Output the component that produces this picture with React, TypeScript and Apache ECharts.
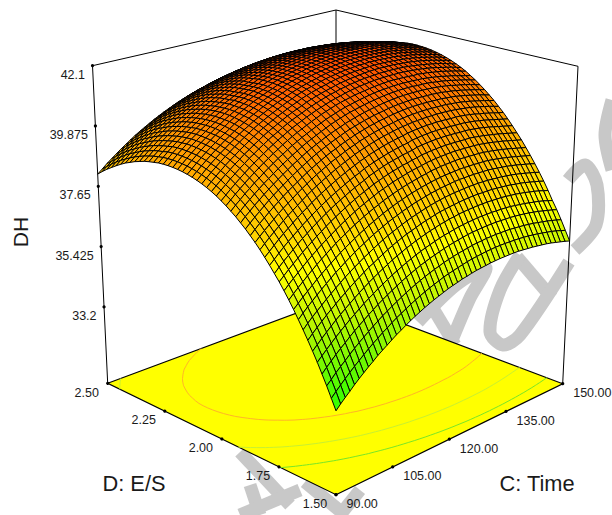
import React, { useEffect, useRef } from "react";
import * as echarts from "echarts";

const zTicks = [42.1, 39.875, 37.65, 35.425, 33.2];
const zTickLabels = ["42.1", "39.875", "37.65", "35.425", "33.2"];
const cTicks = [90, 105, 120, 135, 150];
const cTickLabels = ["90.00", "105.00", "120.00", "135.00", "150.00"];
const dTicks = [1.5, 1.75, 2.0, 2.25, 2.5];
const dTickLabels = ["1.50", "1.75", "2.00", "2.25", "2.50"];
const zFloor = 30.38;
const zTop = 42.1;
const contourLevels = [40.2, 38.5, 36.8];
const contourColors = ["#ffb428", "#c8f032", "#78e628"];
const colorStops: [number, number[]][] = [
  [33.2, [40, 255, 0]],
  [35.6, [190, 245, 0]],
  [37, [255, 255, 0]],
  [38, [255, 210, 0]],
  [40, [255, 150, 0]],
  [42.1, [255, 70, 0]],
];

// DH x 100 at each mesh node: one row per D step (1.50 -> 2.50), one column per C step (90 -> 150).
// Estimates: values were read along the visible edges and silhouette, and the other nodes,
// including those hidden behind the dome, come from a smooth quadratic fitted to those readings by hand.
const dhRows: number[][] = [
  [3320,3336,3351,3365,3380,3394,3407,3420,3432,3445, 3456,3467,3478,3489,3498,3508,3517,3526,3534,3542, 3549,3556,3562,3568,3574,3579, 3583,3588,3591,3595,3598,3600,3602,3604,3605,3606,3606,3606,3606,3605,3603,3601,3599,3596,3593,3590,3586,3581,3576,3571,3565],
  [3355,3371,3386,3401,3415,3429,3442,3455,3468,3480, 3491,3503,3513,3524,3534,3543,3552,3561,3569,3577, 3584,3591,3597,3603,3609,3614, 3618,3622,3626,3630,3633,3635,3637,3639,3640,3641,3641,3641,3640,3639,3638,3636,3634,3631,3628,3624,3620,3616,3611,3605,3599],
  [3390,3405,3421,3435,3449,3463,3477,3490,3502,3514, 3526,3537,3548,3558,3568,3577,3586,3595,3603,3611, 3618,3625,3631,3637,3642,3648, 3652,3656,3660,3663,3666,3669,3671,3672,3674,3674,3675,3674,3674,3673,3671,3669,3667,3664,3661,3657,3653,3649,3644,3639,3633],
  [3423,3439,3454,3469,3483,3496,3510,3523,3535,3547, 3559,3570,3581,3591,3601,3610,3619,3628,3636,3644, 3651,3658,3664,3670,3675,3680, 3685,3689,3693,3696,3699,3702,3704,3705,3706,3707,3707,3707,3706,3705,3704,3702,3700,3697,3694,3690,3686,3681,3676,3671,3665],
  [3456,3471,3486,3501,3515,3529,3542,3555,3567,3579, 3591,3602,3612,3623,3632,3642,3651,3659,3667,3675, 3682,3689,3695,3701,3706,3711, 3716,3720,3723,3727,3730,3732,3734,3735,3737,3737,3737,3737,3736,3735,3734,3732,3729,3726,3723,3719,3715,3711,3706,3700,3694],
  [3487,3502,3517,3532,3546,3560,3573,3586,3598,3610, 3622,3633,3644,3654,3664,3673,3682,3691,3699,3706, 3714,3720,3727,3732,3738,3743, 3747,3752,3755,3759,3761,3764,3766,3767,3768,3769,3769,3769,3768,3767,3766,3764,3761,3759,3755,3752,3747,3743,3738,3732,3726],
  [3517,3533,3548,3562,3577,3590,3603,3616,3628,3641, 3652,3663,3674,3685,3693,3703,3712,3721,3729,3737, 3744,3751,3756,3762,3768,3773, 3777,3782,3786,3788,3791,3793,3795,3797,3798,3799,3799,3798,3798,3797,3795,3793,3791,3788,3784,3781,3777,3772,3767,3762,3756],
  [3546,3562,3577,3591,3605,3619,3632,3645,3657,3670, 3681,3692,3702,3713,3722,3732,3741,3750,3758,3765, 3772,3779,3785,3791,3796,3801, 3806,3810,3814,3817,3820,3822,3824,3825,3826,3827,3827,3827,3826,3825,3823,3821,3819,3816,3813,3809,3805,3800,3795,3790,3784],
  [3574,3590,3605,3619,3633,3647,3660,3673,3686,3697, 3709,3720,3731,3741,3750,3760,3769,3777,3785,3793, 3800,3806,3813,3818,3824,3829, 3833,3837,3841,3844,3847,3849,3851,3853,3854,3854,3854,3854,3853,3852,3851,3849,3846,3843,3840,3836,3832,3827,3822,3817,3811],
  [3602,3617,3632,3646,3660,3674,3687,3700,3712,3724, 3736,3747,3757,3767,3777,3786,3795,3803,3811,3819, 3826,3832,3839,3844,3850,3855, 3859,3863,3867,3870,3873,3875,3877,3878,3879,3880,3880,3879,3879,3877,3877,3875,3872,3869,3865,3861,3857,3852,3847,3842,3837],
  [3628,3643,3658,3672,3686,3700,3713,3726,3738,3750, 3762,3773,3783,3793,3803,3812,3821,3829,3837,3844, 3852,3858,3864,3870,3875,3880, 3884,3888,3892,3895,3899,3901,3903,3904,3905,3906,3906,3905,3904,3903,3902,3900,3897,3894,3890,3886,3882,3877,3872,3867,3862],
  [3653,3668,3683,3697,3711,3725,3738,3751,3763,3775, 3786,3797,3808,3818,3828,3837,3846,3854,3862,3869, 3877,3883,3889,3895,3900,3904, 3909,3913,3916,3919,3923,3925,3927,3928,3929,3930,3930,3929,3928,3927,3926,3924,3921,3918,3914,3910,3906,3901,3896,3891,3886],
  [3677,3692,3707,3721,3735,3749,3762,3774,3787,3798, 3810,3821,3831,3841,3851,3860,3869,3877,3885,3892, 3900,3906,3912,3918,3923,3927, 3932,3935,3939,3942,3946,3948,3950,3951,3952,3952,3952,3951,3950,3949,3949,3946,3943,3940,3936,3932,3928,3923,3918,3913,3908],
  [3699,3715,3730,3744,3758,3772,3785,3797,3810,3821, 3833,3843,3854,3864,3873,3882,3891,3899,3907,3914, 3923,3929,3935,3941,3946,3950, 3954,3958,3961,3964,3969,3971,3973,3974,3975,3975,3975,3974,3973,3971,3971,3969,3966,3963,3959,3955,3950,3945,3940,3935,3930],
  [3721,3736,3751,3766,3780,3793,3806,3819,3831,3843, 3854,3865,3875,3885,3894,3903,3912,3920,3928,3935, 3944,3950,3956,3961,3966,3971, 3975,3979,3982,3985,3990,3992,3994,3995,3996,3996,3996,3995,3994,3992,3992,3990,3987,3984,3980,3976,3971,3966,3961,3956,3951],
  [3742,3757,3772,3787,3801,3814,3827,3840,3852,3863, 3875,3886,3896,3906,3915,3924,3933,3941,3949,3956, 3964,3970,3977,3982,3987,3992, 3996,4000,4003,4006,4010,4012,4014,4015,4016,4016,4016,4015,4014,4012,4012,4010,4007,4004,4000,3995,3991,3986,3981,3975,3971],
  [3762,3777,3792,3806,3820,3834,3847,3859,3871,3883, 3895,3906,3916,3926,3935,3944,3953,3961,3969,3976, 3984,3990,3996,4002,4007,4012, 4016,4020,4023,4027,4029,4031,4033,4034,4035,4035,4035,4035,4034,4033,4031,4029,4026,4023,4020,4016,4011,4006,4001,3995,3989],
  [3781,3796,3811,3825,3839,3853,3866,3878,3890,3902, 3913,3924,3935,3945,3954,3963,3972,3980,3987,3995, 4002,4008,4015,4020,4025,4030, 4034,4038,4041,4044,4047,4049,4051,4052,4053,4053,4053,4052,4051,4050,4049,4046,4044,4041,4037,4033,4028,4023,4018,4012,4007],
  [3798,3814,3829,3843,3857,3870,3883,3896,3908,3919, 3930,3941,3952,3962,3971,3980,3989,3997,4004,4012, 4019,4025,4032,4037,4042,4047, 4051,4055,4058,4061,4064,4066,4068,4069,4070,4070,4070,4069,4068,4067,4066,4063,4061,4058,4054,4050,4045,4040,4035,4029,4023],
  [3815,3830,3845,3859,3873,3887,3900,3912,3924,3936, 3947,3958,3968,3978,3988,3997,4005,4013,4021,4028, 4035,4042,4048,4053,4058,4063, 4067,4071,4074,4077,4080,4082,4084,4085,4086,4086,4086,4085,4084,4083,4081,4079,4076,4073,4069,4065,4060,4055,4050,4044,4039],
  [3830,3846,3860,3875,3888,3902,3915,3927,3939,3951, 3962,3973,3983,3993,4003,4012,4020,4028,4036,4043, 4050,4056,4063,4068,4073,4078, 4082,4086,4089,4092,4095,4097,4099,4100,4101,4101,4101,4100,4099,4098,4096,4094,4091,4088,4084,4079,4075,4070,4065,4059,4053],
  [3845,3860,3875,3889,3903,3916,3929,3941,3953,3965, 3976,3987,3997,4007,4017,4026,4034,4042,4050,4057, 4065,4071,4077,4083,4088,4092, 4096,4100,4103,4106,4109,4111,4113,4114,4115,4115,4115,4114,4112,4111,4110,4107,4104,4101,4097,4093,4088,4083,4078,4072,4067],
  [3858,3874,3888,3903,3916,3930,3942,3955,3967,3978, 3990,4000,4011,4021,4030,4039,4047,4055,4063,4070, 4078,4084,4090,4096,4101,4105, 4109,4113,4116,4119,4122,4124,4125,4126,4127,4127,4127,4126,4125,4123,4122,4119,4116,4113,4109,4104,4100,4095,4089,4084,4079],
  [3871,3886,3901,3915,3929,3942,3955,3967,3979,3990, 4002,4012,4023,4033,4042,4051,4059,4067,4075,4082, 4090,4096,4102,4108,4113,4117, 4121,4125,4128,4130,4133,4135,4137,4138,4139,4139,4138,4137,4136,4134,4134,4131,4129,4125,4122,4118,4113,4108,4103,4097,4091],
  [3882,3897,3912,3926,3940,3953,3966,3978,3990,4001, 4013,4023,4034,4043,4053,4062,4070,4078,4086,4093, 4100,4106,4112,4118,4123,4127, 4132,4136,4139,4142,4144,4146,4148,4149,4149,4150,4149,4149,4148,4146,4144,4142,4139,4136,4132,4128,4123,4118,4113,4107,4101],
  [3893,3908,3922,3937,3950,3964,3976,3989,4000,4012, 4023,4034,4044,4053,4063,4072,4080,4088,4095,4103, 4110,4116,4122,4128,4133,4137, 4142,4145,4149,4151,4154,4156,4157,4158,4159,4159,4159,4158,4157,4156,4154,4151,4148,4145,4141,4137,4133,4128,4122,4116,4110],
  [3902,3917,3932,3946,3959,3973,3985,3998,4009,4021, 4032,4043,4053,4062,4071,4080,4089,4097,4104,4111, 4119,4125,4131,4136,4141,4145, 4150,4154,4157,4160,4162,4164,4166,4167,4168,4168,4167,4167,4166,4164,4162,4160,4157,4154,4150,4146,4141,4136,4130,4125,4118],
  [3910,3925,3940,3954,3968,3981,3993,4006,4017,4029, 4040,4051,4061,4070,4079,4088,4096,4104,4112,4119, 4127,4133,4139,4144,4149,4153, 4158,4162,4165,4168,4170,4172,4173,4174,4175,4175,4175,4174,4173,4171,4169,4167,4164,4161,4157,4153,4148,4143,4138,4132,4125],
  [3917,3932,3947,3961,3975,3988,4000,4013,4024,4036, 4047,4058,4068,4077,4086,4095,4103,4111,4119,4126, 4134,4140,4146,4151,4156,4160, 4165,4168,4171,4174,4177,4178,4180,4181,4181,4182,4181,4181,4179,4178,4176,4173,4170,4167,4163,4159,4154,4149,4144,4138,4131],
  [3923,3938,3953,3967,3981,3994,4006,4019,4030,4042, 4053,4063,4074,4083,4092,4101,4109,4117,4124,4131, 4139,4145,4151,4156,4161,4165, 4170,4174,4177,4180,4182,4184,4185,4186,4187,4187,4187,4186,4185,4183,4181,4179,4176,4172,4168,4164,4159,4154,4149,4143,4136],
  [3928,3943,3958,3972,3986,3999,4011,4024,4035,4047, 4058,4068,4079,4088,4097,4106,4114,4122,4129,4136, 4144,4150,4156,4161,4166,4171, 4175,4178,4181,4184,4186,4188,4190,4191,4191,4191,4191,4190,4189,4187,4185,4183,4180,4176,4172,4168,4164,4158,4153,4147,4140],
  [3932,3947,3962,3976,3990,4003,4015,4028,4039,4050, 4062,4072,4082,4092,4101,4110,4118,4126,4133,4140, 4148,4154,4160,4165,4170,4174, 4178,4182,4185,4188,4190,4192,4193,4194,4194,4195,4194,4193,4192,4190,4188,4186,4183,4179,4176,4171,4167,4161,4156,4150,4143],
  [3935,3950,3965,3979,3993,4006,4018,4031,4042,4053, 4065,4075,4085,4095,4104,4113,4121,4128,4136,4142, 4150,4156,4162,4168,4172,4176, 4181,4184,4187,4190,4192,4194,4195,4196,4197,4197,4196,4196,4194,4193,4190,4188,4185,4181,4178,4173,4169,4163,4158,4152,4145],
  [3937,3952,3967,3981,3995,4008,4020,4032,4044,4055, 4066,4077,4087,4096,4105,4114,4122,4130,4137,4144, 4152,4158,4164,4169,4174,4178, 4182,4185,4188,4191,4193,4195,4197,4197,4198,4198,4198,4197,4195,4194,4192,4189,4186,4182,4179,4174,4169,4164,4159,4153,4146],
  [3938,3953,3968,3982,3996,4009,4021,4033,4045,4056, 4067,4078,4088,4097,4106,4115,4123,4131,4138,4145, 4152,4158,4164,4169,4174,4178, 4182,4186,4189,4191,4194,4195,4197,4198,4198,4198,4198,4197,4195,4194,4192,4189,4186,4182,4178,4174,4169,4164,4158,4152,4146],
  [3938,3953,3968,3982,3996,4009,4021,4033,4044,4056, 4067,4077,4087,4097,4106,4114,4122,4130,4137,4144, 4152,4158,4163,4168,4173,4178, 4182,4185,4188,4191,4193,4195,4196,4197,4197,4197,4197,4196,4194,4193,4191,4188,4185,4181,4177,4173,4168,4163,4157,4151,4145],
  [3937,3952,3967,3981,3994,4007,4020,4032,4043,4054, 4065,4076,4085,4095,4103,4112,4120,4128,4135,4141, 4150,4156,4162,4167,4172,4176, 4180,4183,4186,4189,4191,4193,4194,4195,4195,4195,4195,4194,4192,4191,4188,4186,4183,4179,4175,4171,4166,4161,4155,4149,4142],
  [3935,3950,3965,3979,3992,4005,4017,4029,4041,4052, 4063,4073,4083,4092,4101,4109,4117,4125,4132,4138, 4147,4153,4159,4164,4169,4173, 4177,4180,4183,4186,4188,4190,4191,4192,4192,4192,4192,4191,4189,4187,4185,4183,4180,4176,4172,4168,4163,4157,4152,4146,4139],
  [3931,3946,3960,3974,3988,4001,4013,4025,4037,4048, 4059,4070,4079,4089,4098,4107,4115,4123,4130,4137, 4143,4149,4155,4160,4165,4169, 4173,4177,4179,4182,4184,4186,4187,4188,4188,4188,4188,4187,4185,4183,4181,4178,4175,4172,4168,4163,4158,4153,4147,4141,4135],
  [3927,3942,3956,3970,3983,3996,4009,4021,4033,4044, 4055,4065,4075,4084,4093,4102,4110,4118,4125,4132, 4139,4145,4150,4155,4160,4164, 4168,4172,4174,4177,4179,4181,4182,4183,4183,4183,4182,4181,4180,4178,4176,4173,4170,4166,4162,4158,4153,4148,4142,4136,4129],
  [3922,3936,3951,3964,3978,3991,4003,4015,4027,4038, 4049,4059,4069,4079,4088,4096,4105,4112,4120,4126, 4133,4139,4144,4149,4154,4158, 4162,4166,4168,4171,4173,4175,4176,4177,4177,4177,4176,4175,4174,4172,4170,4167,4164,4160,4156,4152,4147,4141,4135,4129,4123],
  [3915,3930,3944,3958,3971,3984,3997,4009,4020,4032, 4042,4053,4063,4072,4081,4090,4098,4105,4113,4120, 4126,4132,4137,4142,4147,4151, 4155,4159,4161,4164,4166,4168,4169,4169,4170,4170,4169,4168,4166,4165,4162,4160,4156,4153,4149,4144,4139,4134,4128,4122,4115],
  [3908,3922,3937,3950,3964,3977,3989,4001,4013,4024, 4035,4045,4055,4064,4073,4082,4090,4098,4105,4112, 4118,4124,4129,4134,4139,4143, 4147,4150,4153,4156,4158,4159,4161,4161,4161,4161,4161,4160,4158,4156,4154,4151,4148,4144,4140,4136,4131,4125,4119,4113,4106],
  [3899,3914,3928,3942,3955,3968,3980,3992,4004,4015, 4026,4036,4046,4055,4064,4073,4081,4089,4096,4103, 4109,4115,4120,4125,4130,4134, 4138,4141,4144,4147,4149,4150,4151,4152,4152,4152,4151,4150,4149,4147,4144,4142,4139,4135,4131,4126,4121,4116,4110,4104,4097],
  [3890,3904,3918,3932,3945,3958,3971,3983,3994,4005, 4016,4026,4036,4046,4054,4063,4071,4079,4086,4093, 4099,4105,4110,4115,4120,4124, 4128,4131,4134,4136,4138,4140,4141,4142,4142,4142,4141,4140,4138,4136,4134,4131,4128,4124,4120,4116,4111,4105,4099,4093,4086],
  [3879,3893,3908,3921,3935,3948,3960,3972,3983,3995, 4005,4015,4025,4035,4044,4052,4060,4068,4075,4082, 4088,4094,4099,4104,4109,4113, 4117,4120,4123,4125,4127,4129,4130,4130,4130,4130,4130,4129,4127,4125,4123,4120,4116,4113,4108,4104,4099,4093,4087,4081,4074],
  [3867,3882,3896,3910,3923,3936,3948,3960,3972,3983, 3993,4004,4013,4023,4032,4040,4048,4056,4063,4069, 4076,4082,4087,4092,4097,4101, 4104,4108,4110,4113,4115,4116,4117,4118,4118,4118,4117,4116,4114,4112,4110,4107,4104,4100,4096,4091,4086,4081,4075,4068,4062],
  [3854,3869,3883,3897,3910,3923,3935,3947,3959,3970, 3980,3991,4000,4010,4018,4027,4035,4043,4050,4056, 4063,4068,4074,4079,4083,4087, 4091,4094,4097,4099,4101,4103,4104,4104,4104,4104,4104,4102,4101,4099,4096,4093,4090,4086,4082,4078,4072,4067,4061,4055,4048],
  [3841,3855,3869,3883,3896,3909,3921,3933,3945,3956, 3966,3977,3986,3996,4004,4013,4021,4028,4035,4042, 4048,4054,4060,4064,4069,4073, 4077,4080,4083,4085,4087,4088,4089,4090,4090,4090,4089,4088,4086,4084,4082,4079,4075,4072,4067,4063,4058,4052,4046,4040,4033],
  [3826,3840,3854,3868,3881,3894,3906,3918,3930,3941, 3951,3961,3971,3980,3989,3998,4006,4013,4020,4027, 4033,4039,4044,4049,4054,4058, 4061,4065,4067,4069,4071,4073,4074,4074,4074,4074,4073,4072,4070,4068,4066,4063,4060,4056,4052,4047,4042,4036,4030,4024,4017],
  [3810,3824,3839,3852,3865,3878,3890,3902,3914,3925, 3935,3945,3955,3964,3973,3981,3989,3997,4004,4011, 4017,4023,4028,4033,4037,4041, 4045,4048,4051,4053,4055,4056,4057,4058,4058,4057,4057,4056,4054,4052,4049,4046,4043,4039,4035,4030,4025,4019,4013,4007,4000],
];

const N = dhRows.length - 1;

const FL = { F: [336, 494.7], R: [562.7, 383.7], L: [107.7, 383.3], B: [336, 298.5] };
const TP = { F: [336, 146], R: [578, 66.3], L: [92.5, 65.7], B: [336, 10] };
function bil(q: any, u: number, v: number) {
  return [0, 1].map((k) => (1 - u) * (1 - v) * q.F[k] + u * (1 - v) * q.R[k] + (1 - u) * v * q.L[k] + u * v * q.B[k]);
}
function proj(u: number, v: number, z: number) {
  const w = (z - zFloor) / (zTop - zFloor);
  const a = bil(FL, u, v), b = bil(TP, u, v);
  return [a[0] + (b[0] - a[0]) * w, a[1] + (b[1] - a[1]) * w];
}
function colorOf(z: number) {
  let k = 0;
  while (k < colorStops.length - 2 && z > colorStops[k + 1][0]) k++;
  const [z0, c0] = colorStops[k], [z1, c1] = colorStops[k + 1];
  const t = Math.max(0, Math.min(1, (z - z0) / (z1 - z0)));
  return `rgb(${c0.map((c, m) => Math.round(c + (c1[m] - c) * t)).join(",")})`;
}
const val = (i: number, j: number) => dhRows[j][i] / 100;

function contourSegments(level: number) {
  const segs: number[][][] = [];
  for (let j = 0; j < N; j++) for (let i = 0; i < N; i++) {
    const cs = [[i, j], [i + 1, j], [i + 1, j + 1], [i, j + 1]];
    const pts: number[][] = [];
    for (let e = 0; e < 4; e++) {
      const p = cs[e], q = cs[(e + 1) % 4];
      const a = val(p[0], p[1]) - level, b = val(q[0], q[1]) - level;
      if ((a < 0) !== (b < 0)) {
        const t = a / (a - b);
        pts.push([(p[0] + (q[0] - p[0]) * t) / N, (p[1] + (q[1] - p[1]) * t) / N]);
      }
    }
    if (pts.length >= 2) segs.push([pts[0], pts[1]]);
  }
  return segs;
}

const cells: number[][] = [];
for (let s = 2 * N - 2; s >= 0; s--) for (let i = 0; i < N; i++) {
  const j = s - i;
  if (j >= 0 && j < N) cells.push([i, j]);
}

const watermark: number[][][] = [
  [[612, 100], [605, 135], [612, 170]],
  [[568, 180], [585, 165], [597, 185], [596, 225], [575, 250]],
  [[517, 257], [552, 298]],
  [[569, 262], [520, 335], [503, 345], [490, 332], [500, 290], [520, 255]],
  [[418, 322], [456, 285], [486, 268], [470, 298], [450, 345]],
  [[428, 300], [455, 345]],
  [[240, 452], [290, 505]],
  [[250, 485], [260, 515]],
  [[300, 490], [240, 515]],
  [[305, 482], [345, 515]],
  [[360, 490], [340, 515]],
];

export default function App() {
  const ref = useRef<HTMLDivElement>(null);
  useEffect(() => {
    const chart = echarts.init(ref.current!, undefined, { renderer: "svg" });
    const lineStyle = { stroke: "#000", lineWidth: 1, fill: "none" };
    const P = (api: any, p: number[]) => api.coord(p);
    const textStyle = (text: string, size: number, align: string) => ({ text, fontFamily: "Liberation Sans", fontSize: size, fill: "#1a1a1a", align, verticalAlign: "middle" });
    chart.setOption({
      animation: false,
      grid: { left: 0, right: 0, top: 0, bottom: 0 },
      xAxis: { type: "value", min: 0, max: 612, show: false },
      yAxis: { type: "value", min: 0, max: 515, inverse: true, show: false },
      graphic: watermark.map((pts) => ({ type: "polyline", shape: { points: pts, smooth: 0.3 }, style: { stroke: "#c8c8c8", lineWidth: 13, fill: "none" }, silent: true })),
      series: [
        {
          type: "custom", coordinateSystem: "cartesian2d", clip: false, z: 2, data: [0], silent: true,
          renderItem: (_p: any, api: any) => {
            const c = (u: number, v: number, z: number) => P(api, proj(u, v, z));
            const segs = [
              [c(0, 1, zFloor), c(0, 1, zTop)], [c(1, 1, zFloor), c(1, 1, zTop)], [c(1, 0, zFloor), c(1, 0, zTop)],
              [c(0, 1, zTop), c(1, 1, zTop)], [c(1, 1, zTop), c(1, 0, zTop)],
            ];
            const floor = [c(0, 0, zFloor), c(1, 0, zFloor), c(1, 1, zFloor), c(0, 1, zFloor)];
            const children: any[] = segs.map((s) => ({ type: "line", shape: { x1: s[0][0], y1: s[0][1], x2: s[1][0], y2: s[1][1] }, style: lineStyle }));
            children.push({ type: "polygon", shape: { points: floor }, style: { fill: "#ffff00", stroke: "#000", lineWidth: 1.2 } });
            contourLevels.forEach((lv, k) => {
              contourSegments(lv).forEach((s) => {
                const a = c(s[0][0], s[0][1], zFloor), b = c(s[1][0], s[1][1], zFloor);
                children.push({ type: "line", shape: { x1: a[0], y1: a[1], x2: b[0], y2: b[1] }, style: { stroke: contourColors[k], lineWidth: 1, fill: "none" } });
              });
            });
            return { type: "group", children };
          },
        },
        {
          type: "custom", coordinateSystem: "cartesian2d", clip: false, z: 3, data: cells, silent: true,
          renderItem: (_p: any, api: any) => {
            const i = api.value(0), j = api.value(1);
            const corners = [[i, j], [i + 1, j], [i + 1, j + 1], [i, j + 1]];
            const pts = corners.map(([a, b]) => P(api, proj(a / N, b / N, val(a, b))));
            const avg = corners.reduce((t, [a, b]) => t + val(a, b), 0) / 4;
            return { type: "polygon", shape: { points: pts }, style: { fill: colorOf(avg), stroke: "#000", lineWidth: 1 } };
          },
        },
        {
          type: "custom", coordinateSystem: "cartesian2d", clip: false, z: 4, data: [0], silent: true,
          renderItem: (_p: any, api: any) => {
            const children: any[] = [];
            const dot = (p: number[]) => children.push({ type: "circle", shape: { cx: p[0], cy: p[1], r: 1.6 }, style: { fill: "#000" } });
            const txt = (x: number, y: number, text: string, size: number, align: string, rot = 0) =>
              children.push({ type: "text", x, y, rotation: rot, style: textStyle(text, size, align) });
            zTicks.forEach((z, k) => {
              const p = P(api, proj(0, 1, z)); dot(p);
              txt(p[0] - 7.5, p[1] + 9, zTickLabels[k], 12.5, "right");
            });
            cTicks.forEach((cv, k) => {
              const p = P(api, proj((cv - 90) / 60, 0, zFloor)); dot(p);
              txt(p[0] + 10.5, p[1] + 9.3, cTickLabels[k], 12.5, "left");
            });
            dTicks.forEach((dv, k) => {
              const p = P(api, proj(0, dv - 1.5, zFloor)); dot(p);
              txt(p[0] - 21, p[1] + 9.3, dTickLabels[k], 12.5, "center");
            });
            txt(20, 232, "DH", 21, "center", Math.PI / 2);
            txt(134, 483, "D: E/S", 21.8, "center");
            txt(537, 483, "C: Time", 21.8, "center");
            return { type: "group", children };
          },
        },
      ],
    });
    return () => chart.dispose();
  }, []);
  return <div ref={ref} style={{ position: "fixed", left: 0, top: 0, width: 612, height: 515, background: "#fff" }} />;
}
